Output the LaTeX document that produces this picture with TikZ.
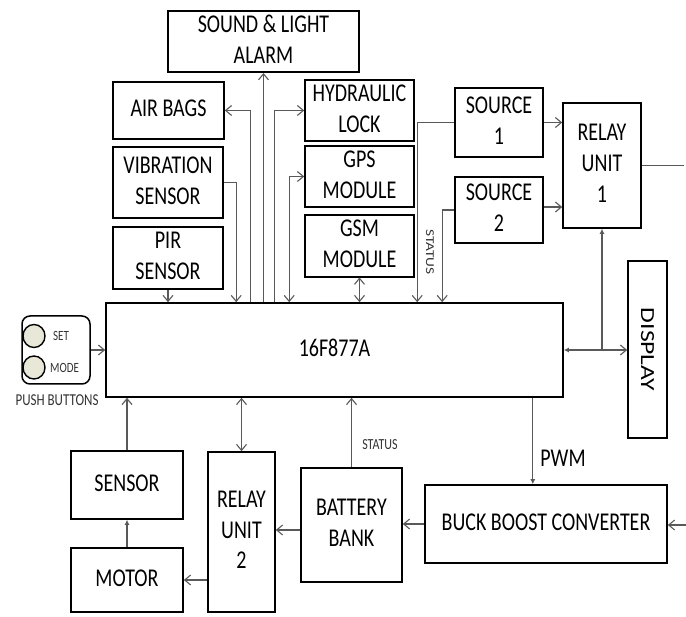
\documentclass[tikz,border=0pt]{standalone}
\usepackage{graphicx}
\usepackage{fontspec}
\setmainfont{Carlito}
\usetikzlibrary{arrows.meta,shapes.geometric}
\newcommand\TT[1]{\scalebox{1}[1.28]{\begin{tabular}{@{}c@{}}#1\end{tabular}}}
\newcommand\RT[1]{\scalebox{1.28}[1]{#1}}
\definecolor{BtnFill}{HTML}{E9E7D8}
\tikzset{
  box/.style={draw, line width=1.6pt, rectangle, inner sep=0pt, align=center, font=\fontsize{20}{24}\selectfont},
  conn/.style={draw=black!65, line width=1.1pt},
  >={Straight Barb[length=6pt,width=10pt]},
  fa/.style={-{Latex[length=5pt,width=5pt]}},
  lbl/.style={inner sep=0pt, text=black!80},
  btn/.style={draw, line width=1.4pt, fill=BtnFill, ellipse, minimum width=22pt, minimum height=23pt, inner sep=0pt}
}
\begin{document}
\begin{tikzpicture}[x=1pt,y=1pt]
\useasboundingbox (0,0) rectangle (686,-617);
% boxes
\node[box, minimum width=191pt, minimum height=59pt] (alarm) at (263.5,-41.5) {\TT{SOUND \& LIGHT\\ALARM}};
\node[box, minimum width=111pt, minimum height=57pt] (airbags) at (168.5,-110.5) {\TT{AIR BAGS}};
\node[box, minimum width=109pt, minimum height=57pt] (hydraulic) at (359.5,-110.5) {\TT{HYDRAULIC\\LOCK}};
\node[box, minimum width=110pt, minimum height=71pt] (vibration) at (168,-182.5) {\TT{VIBRATION\\SENSOR}};
\node[box, minimum width=110pt, minimum height=58pt] (pir) at (168,-258) {\TT{PIR\\SENSOR}};
\node[box, minimum width=109pt, minimum height=59pt] (gps) at (359.5,-176.5) {\TT{GPS\\MODULE}};
\node[box, minimum width=109pt, minimum height=58pt] (gsm) at (359.5,-246) {\TT{GSM\\MODULE}};
\node[box, minimum width=88pt, minimum height=69pt] (source1) at (499,-122.5) {\TT{SOURCE\\1}};
\node[box, minimum width=88pt, minimum height=66pt] (source2) at (499,-210) {\TT{SOURCE\\2}};
\node[box, minimum width=78pt, minimum height=125pt] (relay1) at (602,-165.5) {\TT{RELAY\\UNIT\\1}};
\node[box, minimum width=457pt, minimum height=94pt] (mcu) at (334.5,-350) {\TT{16F877A}};
\node[box, minimum width=39pt, minimum height=177pt] (display) at (647.5,-349.5) {};
\node[lbl, rotate=-90, font=\fontsize{20}{24}\selectfont, text=black] (displaytxt) at (display.center) {\RT{DISPLAY}};
\node[box, minimum width=242pt, minimum height=78pt] (buck) at (546,-524) {\TT{BUCK BOOST CONVERTER}};
\node[box, minimum width=101pt, minimum height=114pt] (battery) at (351.5,-525) {\TT{BATTERY\\BANK}};
\node[box, minimum width=67pt, minimum height=160pt] (relay2) at (241.5,-532) {\TT{RELAY\\UNIT\\2}};
\node[box, minimum width=112pt, minimum height=68pt] (sensor) at (127,-485) {\TT{SENSOR}};
\node[box, minimum width=112pt, minimum height=64pt] (motor) at (127,-580) {\TT{MOTOR}};
% push buttons
\node[draw, line width=1.5pt, rounded corners=8pt, minimum width=68pt, minimum height=68pt, inner sep=0pt] (pb) at (56,-350) {};
\node[btn] (setbtn) at (34,-336) {};
\node[btn] (modebtn) at (34,-367.5) {};
\node[lbl, anchor=west, font=\fontsize{11}{13}\selectfont] (settxt) at (53,-336) {\scalebox{1}[1.28]{SET}};
\node[lbl, anchor=west, font=\fontsize{11}{13}\selectfont] (modetxt) at (50,-367.5) {\scalebox{1}[1.28]{MODE}};
\node[lbl, font=\fontsize{13}{15}\selectfont] (pbtxt) at (57,-400) {\scalebox{1}[1.28]{PUSH BUTTONS}};
% labels
\node[lbl, font=\fontsize{12}{14}\selectfont] (status2) at (380,-445) {\scalebox{1}[1.28]{STATUS}};
\node[lbl, rotate=-90, font=\fontsize{12}{14}\selectfont] (status1) at (430,-252) {\RT{STATUS}};
\node[lbl, font=\fontsize{20}{24}\selectfont, text=black] (pwm) at (563,-458) {\scalebox{1}[1.28]{PWM}};
% connectors
\draw[conn,->] (alarm.south |- mcu.north) -- (alarm.south);
\draw[conn,->] ([xshift=145pt]mcu.north west) |- (airbags.east);
\draw[conn,->] ([xshift=169pt]mcu.north west) |- (hydraulic.west);
\draw[conn,->] (vibration.east) -| ([xshift=131pt]mcu.north west);
\draw[conn,->] (pir.south) -- (pir.south |- mcu.north);
\draw[conn,<->] ([xshift=184pt]mcu.north west) |- (gps.west);
\draw[conn,<->] (gsm.south) -- (gsm.south |- mcu.north);
\draw[conn,->] (source1.west) -| ([xshift=312pt]mcu.north west);
\draw[conn,->] (source2.west) -| ([xshift=337pt]mcu.north west);
\draw[conn,->] (source1.east) -- (source1.east -| relay1.west);
\draw[conn,->] ([yshift=3pt]source2.east) -- ([yshift=3pt]source2.east -| relay1.west);
\coordinate (rout) at (684,-165.5);
\draw[conn] (relay1.east) -- (rout);
\draw[conn,{Latex[length=5pt,width=5pt]}->] (mcu.east) -- (mcu.east -| display.west);
\draw[conn,fa] (relay1.south |- mcu.east) -- (relay1.south);
\draw[conn,fa] ([xshift=-31pt]mcu.south east) coordinate (pw) -- (pw |- buck.north);
\coordinate (bin) at (686,-525);
\draw[conn,->] (bin) -- (bin -| buck.east);
\draw[conn,->] (buck.west) -- (buck.west -| battery.east);
\draw[conn,->] (battery.north) -- (battery.north |- mcu.south);
\draw[conn,->] ([yshift=-5pt]battery.west) -- ([yshift=-5pt]battery.west -| relay2.east);
\draw[conn,<->] (relay2.north) -- (relay2.north |- mcu.south);
\draw[conn,->] (motor.east -| relay2.west) -- (motor.east);
\draw[conn,fa] (motor.north) -- (sensor.south);
\draw[conn,->] (sensor.north) -- (sensor.north |- mcu.south);
\draw[conn,->] (pb.east) -- (pb.east -| mcu.west);
\end{tikzpicture}
\end{document}
